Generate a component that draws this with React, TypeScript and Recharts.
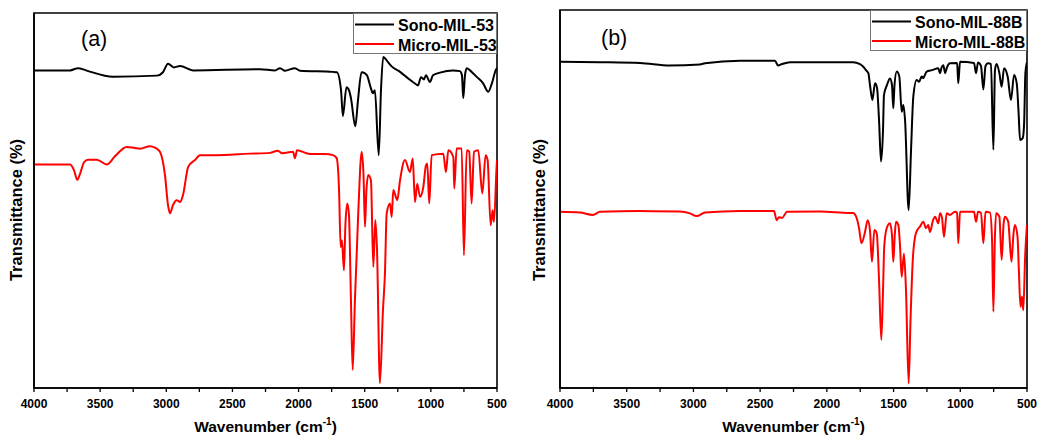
import { Legend, Line, LineChart, ReferenceArea, XAxis, YAxis } from 'recharts';

type Pt = [number, number];

// wavenumber (cm-1), transmittance (arbitrary units: 0 = bottom of frame, 100 = top)
const sonoMil53: Pt[] = [
  [4000, 84.7], [3728, 84.7], [3667, 85.3], [3607, 84.7], [3403, 83.0], [3070, 83.3],
  [3025, 84.2], [2987, 86.5], [2942, 85.5], [2896, 85.9], [2798, 84.7], [2292, 85.0],
  [2178, 84.7], [2140, 85.3], [2103, 84.6], [2027, 85.3], [1989, 84.6], [1740, 84.3],
  [1710, 84.2], [1679, 79.4], [1665, 72.5], [1638, 80.2], [1619, 79.4], [1604, 77.3],
  [1571, 69.8], [1551, 76.7], [1524, 84.2], [1498, 83.9], [1483, 83.4], [1453, 79.9],
  [1438, 78.6], [1423, 79.4], [1394, 62.1], [1377, 79.4], [1360, 88.3], [1324, 86.9],
  [1294, 85.7], [1233, 84.3], [1173, 82.6], [1112, 81.0], [1097, 80.7], [1075, 82.9],
  [1052, 82.3], [1037, 83.4], [1007, 81.6], [984, 83.4], [931, 84.1], [833, 84.7],
  [780, 84.5], [765, 83.4], [755, 77.3], [742, 83.4], [729, 85.3], [689, 84.2],
  [651, 82.9], [606, 81.3], [566, 79.0], [538, 81.3], [508, 84.9], [500, 85.3],
];

const microMil53: Pt[] = [
  [4000, 59.6], [3728, 59.6], [3698, 58.1], [3673, 55.5], [3652, 57.1], [3622, 60.2],
  [3592, 60.9], [3526, 60.9], [3450, 59.6], [3388, 61.8], [3299, 64.3], [3237, 64.0],
  [3199, 63.8], [3123, 64.5], [3085, 64.1], [3048, 63.0], [3010, 56.8], [2987, 48.8],
  [2972, 46.6], [2949, 48.8], [2921, 50.1], [2896, 49.6], [2874, 51.4], [2834, 59.0],
  [2783, 60.8], [2745, 62.1], [2632, 62.1], [2367, 62.5], [2216, 62.7], [2156, 63.3],
  [2125, 62.6], [2042, 63.0], [2027, 61.3], [2012, 63.4], [1914, 62.4], [1801, 62.4],
  [1740, 62.1], [1712, 61.3], [1694, 52.8], [1682, 37.6], [1672, 39.4], [1657, 31.4],
  [1646, 43.4], [1632, 49.2], [1619, 46.1], [1604, 23.4], [1591, 4.8], [1574, 23.4],
  [1549, 46.5], [1523, 63.0], [1509, 56.8], [1498, 43.0], [1487, 52.8], [1473, 56.8],
  [1453, 55.4], [1435, 32.3], [1420, 44.8], [1407, 36.8], [1385, 1.3], [1362, 20.8],
  [1347, 30.6], [1334, 46.5], [1309, 49.2], [1296, 45.6], [1284, 52.8], [1254, 50.1],
  [1233, 55.4], [1196, 60.8], [1158, 57.6], [1137, 61.2], [1120, 49.6], [1103, 54.5],
  [1082, 51.0], [1057, 53.6], [1037, 59.4], [1027, 59.9], [1012, 49.2], [994, 62.1],
  [906, 62.5], [886, 57.6], [868, 63.4], [830, 61.6], [823, 53.2], [805, 63.9],
  [767, 63.9], [750, 35.4], [729, 63.4], [710, 63.0], [692, 49.2], [674, 63.0],
  [642, 63.4], [611, 51.9], [586, 62.1], [571, 60.8], [548, 43.4], [533, 47.4],
  [523, 44.3], [503, 59.0], [500, 60.8],
];

const sonoMil88B: Pt[] = [
  [4000, 86.3], [3700, 86.2], [3400, 86.0], [3176, 85.3], [2951, 85.6], [2913, 85.9],
  [2651, 86.6], [2389, 86.6], [2366, 85.3], [2336, 85.7], [2276, 86.2], [2051, 86.2],
  [1804, 86.2], [1752, 85.7], [1727, 85.0], [1707, 84.1], [1689, 83.3], [1677, 80.2],
  [1659, 76.2], [1639, 80.6], [1624, 79.4], [1609, 70.9], [1594, 59.9], [1579, 68.3],
  [1572, 77.5], [1549, 80.2], [1527, 81.9], [1512, 80.2], [1502, 74.0], [1493, 80.2],
  [1476, 83.7], [1457, 82.4], [1439, 73.1], [1427, 74.9], [1414, 70.9], [1387, 47.1],
  [1369, 63.0], [1352, 77.1], [1327, 81.5], [1309, 81.0], [1289, 82.4], [1279, 82.0],
  [1252, 83.7], [1212, 84.1], [1165, 84.6], [1152, 83.3], [1141, 84.7], [1127, 85.4],
  [1114, 83.3], [1099, 84.9], [1077, 85.9], [1024, 86.0], [1015, 80.6], [1002, 86.3],
  [897, 86.0], [882, 83.3], [867, 86.1], [845, 85.2], [827, 79.0], [811, 85.2],
  [792, 85.9], [770, 85.7], [752, 63.0], [740, 84.1], [728, 85.7], [707, 83.3],
  [690, 79.7], [672, 84.6], [645, 82.4], [620, 76.2], [597, 82.8], [577, 80.6],
  [564, 73.5], [552, 65.6], [532, 66.1], [522, 69.6], [512, 83.3], [502, 85.9],
  [500, 86.2],
];

const microMil88B: Pt[] = [
  [4000, 46.6], [3850, 46.4], [3753, 45.8], [3700, 46.6], [3400, 46.8], [3101, 46.7],
  [3026, 46.2], [2976, 45.5], [2913, 46.4], [2651, 46.8], [2396, 46.8], [2376, 44.4],
  [2359, 45.2], [2336, 45.0], [2299, 46.6], [2051, 46.7], [1826, 46.3], [1804, 46.3],
  [1776, 44.9], [1759, 42.3], [1740, 38.3], [1714, 41.3], [1694, 44.4], [1677, 41.8],
  [1662, 33.4], [1644, 41.8], [1626, 40.9], [1609, 28.6], [1592, 12.7], [1579, 25.9],
  [1570, 37.4], [1552, 42.2], [1527, 43.6], [1512, 40.5], [1502, 33.4], [1491, 40.5],
  [1482, 44.0], [1464, 43.1], [1452, 37.8], [1439, 29.4], [1422, 35.6], [1407, 25.9],
  [1387, 1.2], [1373, 18.0], [1356, 33.9], [1339, 40.0], [1322, 41.8], [1302, 42.7],
  [1277, 44.0], [1257, 42.3], [1240, 43.1], [1227, 41.3], [1204, 44.4], [1189, 45.3],
  [1165, 43.6], [1152, 46.2], [1137, 45.0], [1122, 40.0], [1102, 46.2], [1077, 45.8],
  [1039, 46.6], [1024, 46.3], [1015, 38.3], [1002, 46.6], [897, 46.6], [882, 44.0],
  [867, 46.6], [845, 46.3], [827, 38.3], [811, 46.6], [777, 46.4], [762, 39.2],
  [752, 20.2], [741, 39.2], [732, 46.2], [707, 45.3], [690, 33.9], [676, 43.1],
  [666, 45.3], [641, 44.0], [616, 33.4], [602, 40.5], [591, 43.1], [571, 40.0],
  [561, 31.2], [549, 21.5], [538, 24.2], [528, 20.6], [513, 35.6], [502, 42.2],
  [500, 43.1],
];

const xTicks = [4000, 3750, 3500, 3250, 3000, 2750, 2500, 2250, 2000, 1750, 1500, 1250, 1000, 750, 500];
const xLabels = [4000, 3500, 3000, 2500, 2000, 1500, 1000, 500];

const FONT = '"Liberation Sans", Arial, Helvetica, sans-serif';

const toPoints = (arr: Pt[]) => arr.map(([wn, t]) => ({ wn, t }));

type Series = { name: string; color: string; data: Pt[] };

type PanelProps = {
  tag: string;
  series: Series[];
  left: number;
  width: number;
  top: number;
  right: number;
  yWidth: number;
  tagDx: number;
  tagDy: number;
  legendX: number;
  legendY: number;
  legendW: number;
  legendH: number;
};

function XTick({ x, y, payload }: any) {
  if (!xLabels.includes(payload.value)) return <g />;
  return (
    <text x={x} y={y} dy="0.71em" textAnchor="middle" fontSize={12} fontWeight="bold" fontFamily={FONT} fill="#000">
      {payload.value}
    </text>
  );
}

function Panel(props: PanelProps) {
  const { tag, series, left, width, top, right, yWidth, tagDx, tagDy, legendX, legendY, legendW, legendH } = props;
  const height = 437;

  const xLabel = ({ viewBox }: any) => (
    <text
      x={viewBox.x + viewBox.width / 2}
      y={432}
      textAnchor="middle"
      fontSize={15.5}
      fontWeight="bold"
      fontFamily={FONT}
      fill="#000"
    >
      <tspan>Wavenumber (cm</tspan>
      <tspan dy={-7} fontSize={10}>-1</tspan>
      <tspan dy={7}>)</tspan>
    </text>
  );

  const yLabel = ({ viewBox }: any) => {
    const cx = viewBox.x + viewBox.width / 2 - 1;
    const cy = 210;
    return (
      <text
        x={cx}
        y={cy}
        transform={`rotate(-90 ${cx} ${cy})`}
        textAnchor="middle"
        dominantBaseline="central"
        fontSize={16.5}
        fontWeight="bold"
        fontFamily={FONT}
        fill="#000"
      >
        Transmittance (%)
      </text>
    );
  };

  const tagLabel = ({ viewBox }: any) => (
    <text x={viewBox.x + tagDx} y={viewBox.y + tagDy} fontSize={21.5} fontFamily={FONT} fill="#000">
      {tag}
    </text>
  );

  // legend keeps the series order (recharts sorts its payload by name)
  const legendContent = () => (
    <svg width={legendW} height={legendH} style={{ display: 'block' }}>
      <rect x={0.5} y={0.5} width={legendW - 1} height={legendH - 1} fill="#fff" stroke="#777" strokeWidth={1} />
      {series.map((s, i) => (
        <g key={s.name}>
          <line x1={2} x2={41} y1={11.5 + i * 19.5} y2={11.5 + i * 19.5} stroke={s.color} strokeWidth={2} />
          <text x={45} y={17.5 + i * 20} fontSize={16} fontWeight="bold" fontFamily={FONT} fill="#000">
            {s.name}
          </text>
        </g>
      ))}
    </svg>
  );

  return (
    <div style={{ position: 'absolute', left, top: 0, width, height }}>
      <LineChart width={width} height={height} margin={{ top, right, bottom: 0, left: 0 }}>
        <XAxis
          dataKey="wn"
          type="number"
          domain={[500, 4000]}
          reversed
          ticks={xTicks}
          interval={0}
          tick={<XTick />}
          tickSize={4}
          tickMargin={7}
          height={height - 388}
          axisLine={{ stroke: '#000', strokeWidth: 1.6 }}
          tickLine={{ stroke: '#000', strokeWidth: 1.3 }}
          allowDataOverflow
          label={xLabel}
        />
        <YAxis
          type="number"
          domain={[0, 100]}
          width={yWidth}
          tick={false}
          tickLine={false}
          axisLine={{ stroke: '#000', strokeWidth: 1.6 }}
          allowDataOverflow
          label={yLabel}
        />
        <ReferenceArea
          x1={4000}
          x2={500}
          y1={0}
          y2={100}
          fill="none"
          fillOpacity={0}
          stroke="#000"
          strokeWidth={1.6}
          label={tagLabel}
        />
        {series.map((s) => (
          <Line
            key={s.name}
            name={s.name}
            data={toPoints(s.data)}
            dataKey="t"
            type="monotoneX"
            stroke={s.color}
            strokeWidth={2}
            dot={false}
            activeDot={false}
            isAnimationActive={false}
          />
        ))}
        <Legend
          layout="horizontal"
          align="center"
          verticalAlign="middle"
          width={legendW}
          height={legendH}
          wrapperStyle={{ left: legendX, top: legendY, width: legendW, height: legendH }}
          content={legendContent}
        />
      </LineChart>
    </div>
  );
}

export default function App() {
  return (
    <div style={{ position: 'absolute', left: 0, top: 0, width: 1038, height: 437, background: '#fff' }}>
      <Panel
        tag="(a)"
        series={[
          { name: 'Sono-MIL-53', color: '#000000', data: sonoMil53 },
          { name: 'Micro-MIL-53', color: '#ff0000', data: microMil53 },
        ]}
        left={0}
        width={520}
        top={13}
        right={23}
        yWidth={34}
        tagDx={47}
        tagDy={32.6}
        legendX={353}
        legendY={12.5}
        legendW={144}
        legendH={41}
      />
      <Panel
        tag="(b)"
        series={[
          { name: 'Sono-MIL-88B', color: '#000000', data: sonoMil88B },
          { name: 'Micro-MIL-88B', color: '#ff0000', data: microMil88B },
        ]}
        left={520}
        width={518}
        top={10}
        right={11}
        yWidth={40}
        tagDx={41}
        tagDy={35}
        legendX={350}
        legendY={9.5}
        legendW={157}
        legendH={41}
      />
    </div>
  );
}
